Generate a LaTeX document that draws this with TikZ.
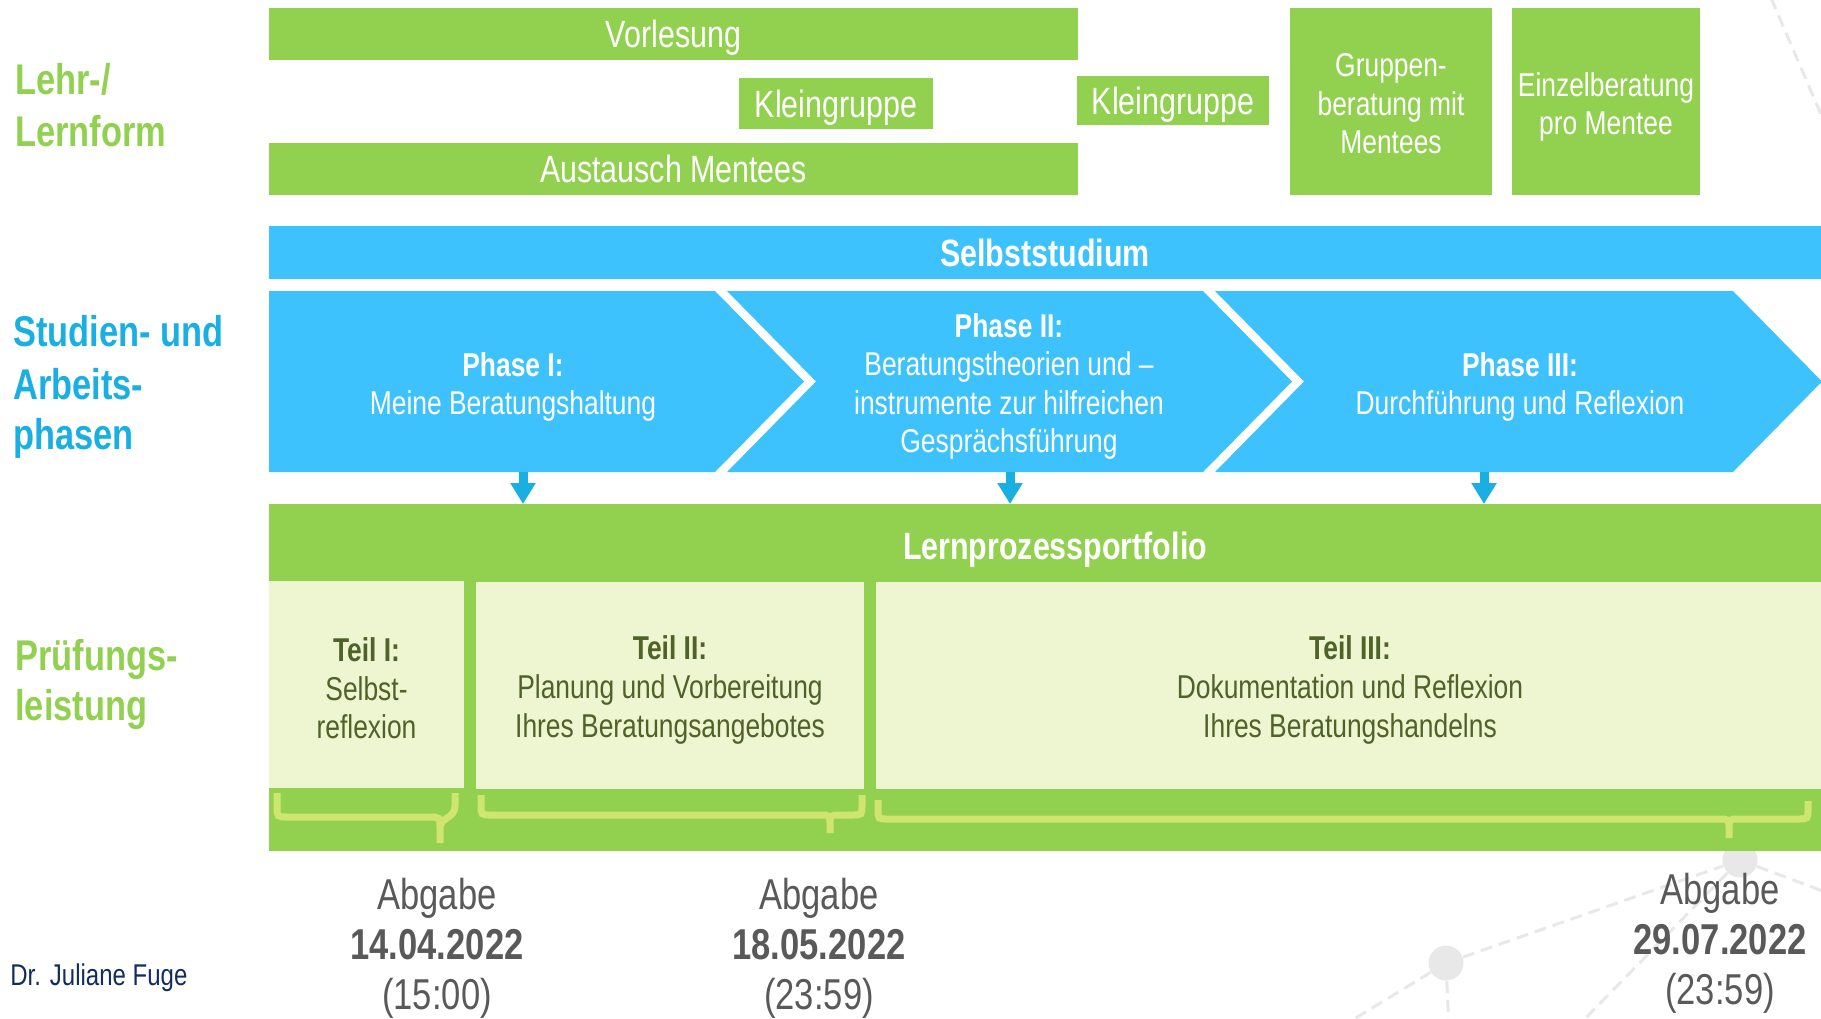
\documentclass[tikz,border=0pt]{standalone}
\usepackage{fontspec}
\setmainfont{Liberation Sans}[FakeStretch=0.8]
\usetikzlibrary{arrows.meta}
\definecolor{lgreen}{HTML}{92D050}
\definecolor{cblue}{HTML}{3EC2FE}
\definecolor{dblue}{HTML}{1AAFE3}
\definecolor{pale}{HTML}{EEF5D1}
\definecolor{olive}{HTML}{4F6228}
\definecolor{bracecol}{HTML}{D0E470}
\definecolor{gtext}{HTML}{595959}
\definecolor{navy}{HTML}{102C60}
\definecolor{decocol}{HTML}{E8E8E8}
\newcommand\fsz[2]{\fontsize{#1}{#2}\selectfont}
\begin{document}
\begin{tikzpicture}[x=0.5pt,y=-0.5pt,
  gbox/.style={fill=lgreen,inner sep=0pt,outer sep=0pt,text=white},
  bbox/.style={fill=cblue,inner sep=0pt,outer sep=0pt,text=white},
  pbox/.style={fill=pale,inner sep=0pt,outer sep=0pt},
  ptext/.style={inner sep=0pt,text=olive,align=center,font=\fsz{16.5}{19.3}},
  wtext/.style={inner sep=0pt,text=white,align=center,font=\fsz{16.5}{19.3}},
  capc/.style={text height=13.6pt,text depth=0pt},
  big/.style={font=\fsz{19}{22}},
  phtext/.style={inner sep=0pt,text=white,align=center,font=\fsz{16.5}{19.3}},
  lab/.style={anchor=base west,inner sep=0pt,font=\bfseries\fsz{21.5}{26}},
  datetxt/.style={anchor=base,inner sep=0pt,text=gtext,font=\fsz{21.6}{25}},
  arr/.style={draw=dblue,line width=4.5pt,-{Triangle[width=12pt,length=10.5pt]}},
  bracestyle/.style={draw=bracecol,line width=3.5pt},
  decoline/.style={draw=decocol,line width=1.5pt,dash pattern=on 6pt off 3.5pt},
  dot/.style={circle,fill=decocol,inner sep=0pt,minimum size=17.5pt}]
\useasboundingbox (0,0) rectangle (1821,1018);
\clip (0,0) rectangle (1821,1018);

% background decoration
\node[dot] (n1) at (1740,860) {};
\node[dot] (n2) at (1446,963) {};
\coordinate (e1) at (1336,1030);
\coordinate (e2) at (1449,1030);
\coordinate (e3) at (1836,896);
\coordinate (e4) at (1574,1030);
\coordinate (t1) at (1771,-2);
\coordinate (t2) at (1832,140);
\draw[decoline] (n2) -- (n1);
\draw[decoline] (n2) -- (e1);
\draw[decoline] (n2) -- (e2);
\draw[decoline] (n1) -- (e3);
\draw[decoline] (n1) -- (e4);
\draw[decoline] (t1) -- (t2);

% Lehr-/Lernform
\node[gbox,capc,big,minimum width=404.5pt,minimum height=26pt] (vorl) at (673.5,34) {Vorlesung};
\node[gbox,capc,big,minimum width=97pt,minimum height=25.5pt] (kg1) at (836,103.5) {Kleingruppe};
\node[gbox,capc,big,minimum width=96pt,minimum height=24.5pt] (kg2) at (1173,100.5) {Kleingruppe};
\node[gbox,capc,big,minimum width=404.5pt,minimum height=26pt] (aust) at (673.5,169) {Austausch Mentees};
\node[gbox,minimum width=101pt,minimum height=93.5pt] (grupp) at (1391,101.5) {};
\node[wtext] (gruppt) at (1391,104) {Gruppen-\\beratung mit\\Mentees};
\node[gbox,minimum width=94pt,minimum height=93.5pt] (einz) at (1606,101.5) {};
\node[wtext] (einzt) at (1606,107) {Einzelberatung\\pro Mentee};

% Selbststudium
\node[bbox,capc,font=\bfseries\fsz{19}{22},minimum width=776pt,minimum height=26.5pt] (selbst) at (1045,252.5) {Selbststudium};

% phases
\fill[cblue] (269,291) -- (715,291) -- (804,381.5) -- (715,472) -- (269,472) -- cycle;
\fill[cblue] (727,291) -- (1203,291) -- (1292,381.5) -- (1203,472) -- (727,472) -- (816,381.5) -- cycle;
\fill[cblue] (1215,291) -- (1733,291) -- (1822,381.5) -- (1733,472) -- (1215,472) -- (1304,381.5) -- cycle;
\node[phtext] (ph1) at (513,387) {\textbf{Phase I:}\\Meine Beratungshaltung};
\node[phtext] (ph2) at (1009,386.4) {\textbf{Phase II:}\\Beratungstheorien und –\\instrumente zur hilfreichen\\Gesprächsführung};
\node[phtext] (ph3) at (1520,387) {\textbf{Phase III:}\\Durchführung und Reflexion};
\coordinate (a1) at (523,472);
\coordinate (a2) at (1010,472);
\coordinate (a3) at (1484,472);

% Lernprozessportfolio
\node[gbox,minimum width=776pt,minimum height=38.5pt] (lern) at (1045,542.5) {};
\node[inner sep=0pt,capc,text=white,font=\bfseries\fsz{19}{22}] (lernt) at (1055,546) {Lernprozessportfolio};
\fill[lgreen] (lern.south west) rectangle (1821,851);
\draw[arr] (a1) -- (a1 |- lern.north);
\draw[arr] (a2) -- (a2 |- lern.north);
\draw[arr] (a3) -- (a3 |- lern.north);

\node[pbox,minimum width=97.5pt,minimum height=103.5pt] (t1box) at (366.5,684.5) {};
\node[ptext] (t1txt) at (366.5,688.5) {\textbf{Teil I:}\\Selbst-\\reflexion};
\node[pbox,minimum width=194pt,minimum height=103.5pt] (t2box) at (670,685.5) {};
\node[ptext] (t2txt) at (670,690) {\textbf{Teil II:}\\Planung und Vorbereitung\\Ihres Beratungsangebotes};
\node[pbox,minimum width=472.5pt,minimum height=103.5pt] (t3box) at (1348.5,685.5) {};
\node[ptext] (t3txt) at (1350,690) {\textbf{Teil III:}\\Dokumentation und Reflexion\\Ihres Beratungshandelns};

% braces
\draw[bracestyle] (277,793) -- (277,806) .. controls (277,817) .. (288,817) -- (429,817) .. controls (440,817) .. (440,828) -- (440,843)
  (440,828) .. controls (440,817) and (455,819) .. (455,806) -- (455,793);
\draw[bracestyle] (481,795) -- (481,805) .. controls (481,815) .. (491,815) -- (820,815) .. controls (830,815) .. (830,825) -- (830,833)
  (830,825) .. controls (830,815) .. (840,815) -- (852,815) .. controls (862,815) .. (862,805) -- (862,795);
\draw[bracestyle] (878,800) -- (878,809) .. controls (878,819) .. (888,819) -- (1719,819) .. controls (1729,819) .. (1729,829) -- (1729,838)
  (1729,829) .. controls (1729,819) .. (1739,819) -- (1798,819) .. controls (1808,819) .. (1808,809) -- (1808,801);

% dates
\node[datetxt] (d1a) at (437,909) {Abgabe};
\node[datetxt,font=\bfseries\fsz{21.6}{25}] (d1b) at (437,959) {14.04.2022};
\node[datetxt] (d1c) at (437,1009) {(15:00)};
\node[datetxt] (d2a) at (819,909) {Abgabe};
\node[datetxt,font=\bfseries\fsz{21.6}{25}] (d2b) at (819,959) {18.05.2022};
\node[datetxt] (d2c) at (819,1009) {(23:59)};
\node[datetxt] (d3a) at (1720,904) {Abgabe};
\node[datetxt,font=\bfseries\fsz{21.6}{25}] (d3b) at (1720,954) {29.07.2022};
\node[datetxt] (d3c) at (1720,1004) {(23:59)};

% left labels
\node[lab,text=lgreen] (l1a) at (15,94) {Lehr-/};
\node[lab,text=lgreen] (l1b) at (15,146) {Lernform};
\node[lab,text=dblue] (l2a) at (13,346) {Studien- und};
\node[lab,text=dblue] (l2b) at (13,399) {Arbeits-};
\node[lab,text=dblue] (l2c) at (13,449) {phasen};
\node[lab,text=lgreen] (l3a) at (15,670) {Prüfungs-};
\node[lab,text=lgreen] (l3b) at (15,720) {leistung};
\node[anchor=base west,inner sep=0pt,text=navy,font=\fsz{15}{18}] (author) at (10,985) {Dr. Juliane Fuge};
\end{tikzpicture}
\end{document}
